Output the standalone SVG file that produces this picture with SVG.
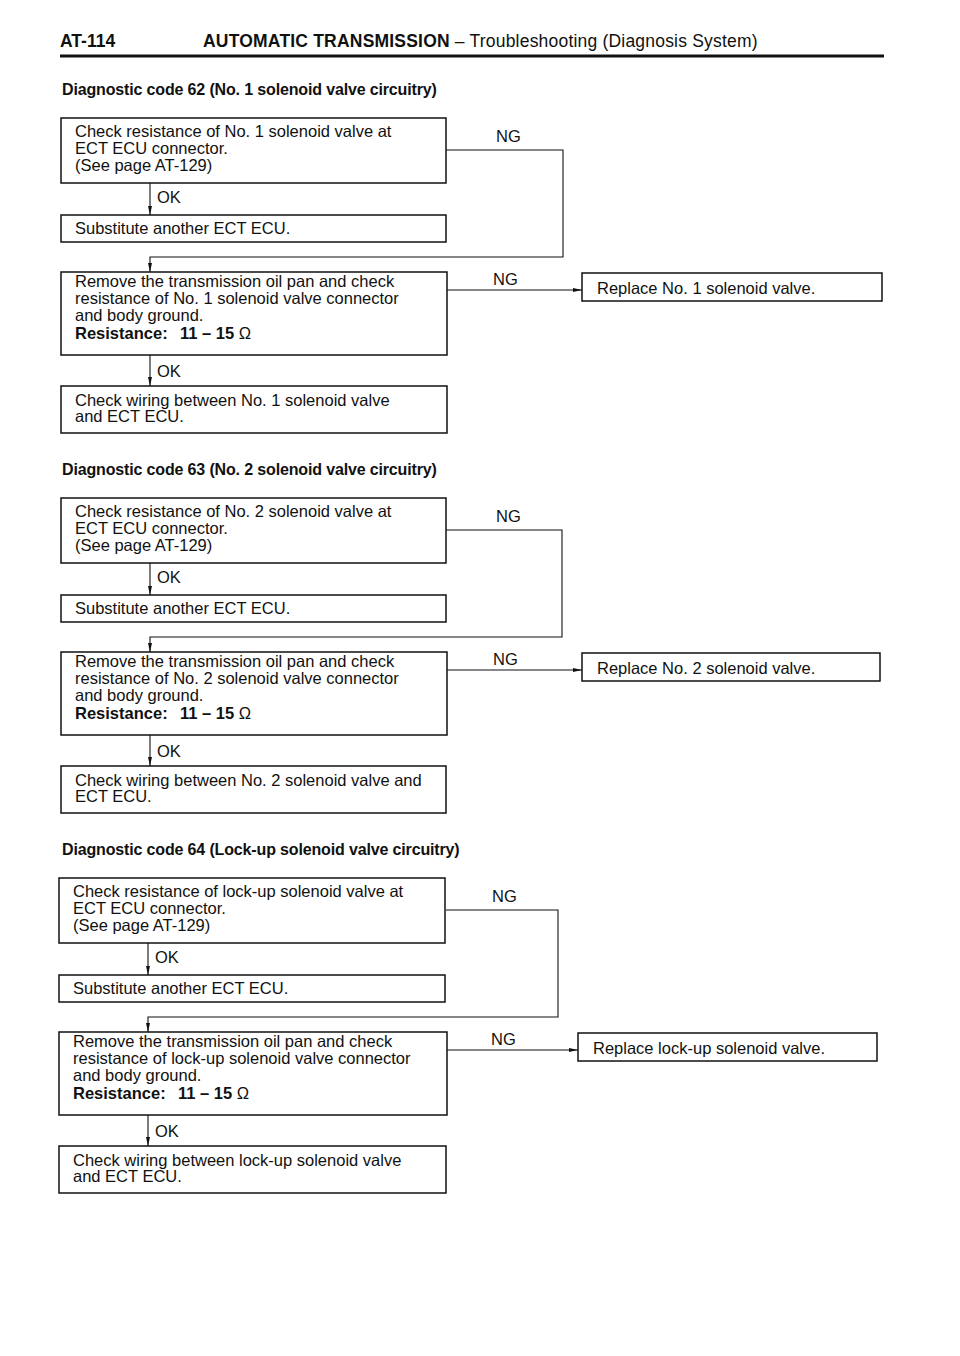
<svg xmlns="http://www.w3.org/2000/svg" width="960" height="1356" viewBox="0 0 960 1356">
<defs>
<marker id="ah" viewBox="0 0 10 10" refX="10" refY="5" markerWidth="9" markerHeight="9" orient="auto" markerUnits="userSpaceOnUse"><path d="M0,2.8 L10,5 L0,7.2 z" fill="#111"/></marker>
</defs>
<style>
text{font-family:"Liberation Sans",Arial,Helvetica,sans-serif;fill:#111}
.t{font-size:16.5px}
.b{font-weight:bold}
.h{font-size:17.5px;letter-spacing:0.2px}
.ttl{font-size:16px;font-weight:bold;letter-spacing:-0.15px}
.box{fill:#fff;stroke:#111;stroke-width:1.5}
.ln{fill:none;stroke:#111;stroke-width:1.1}
.arr{fill:none;stroke:#111;stroke-width:1.1;marker-end:url(#ah)}
</style>
<rect width="960" height="1356" fill="#fff"/>
<g id="header">
<text class="h b" x="60" y="47" style="letter-spacing:0">AT-114</text>
<text class="h" x="203" y="47"><tspan class="b">AUTOMATIC TRANSMISSION</tspan> – Troubleshooting (Diagnosis System)</text>
<line x1="60" y1="56" x2="884" y2="56" stroke="#111" stroke-width="3"/>
</g>

<!-- Section 62 -->
<g id="sec62">
<text class="ttl" x="62" y="95">Diagnostic code 62 (No. 1 solenoid valve circuitry)</text>
<g id="connectors62">
<line class="arr" x1="150" y1="183" x2="150" y2="215"/>
<text class="t" x="157" y="203">OK</text>
<polyline class="arr" points="446,150 563,150 563,257 150,257 150,272"/>
<text class="t" x="496" y="142">NG</text>
<line class="arr" x1="447" y1="290" x2="582" y2="290"/>
<text class="t" x="493" y="285">NG</text>
<line class="arr" x1="150" y1="355" x2="150" y2="386"/>
<text class="t" x="157" y="377">OK</text>
</g>
<g id="n62a"><rect class="box" x="61" y="118" width="385" height="65"/>
<text class="t" x="75" y="137">Check resistance of No. 1 solenoid valve at</text>
<text class="t" x="75" y="154">ECT ECU connector.</text>
<text class="t" x="75" y="171">(See page AT-129)</text></g>
<g id="n62b"><rect class="box" x="61" y="215" width="385" height="27"/>
<text class="t" x="75" y="234">Substitute another ECT ECU.</text></g>
<g id="n62c"><rect class="box" x="61" y="272" width="386" height="83"/>
<text class="t" x="75" y="287">Remove the transmission oil pan and check</text>
<text class="t" x="75" y="304">resistance of No. 1 solenoid valve connector</text>
<text class="t" x="75" y="321">and body ground.</text>
<text class="t" x="75" y="339"><tspan class="b">Resistance:</tspan><tspan class="b" x="180">11 – 15</tspan> Ω</text></g>
<g id="n62d"><rect class="box" x="61" y="386" width="386" height="47"/>
<text class="t" x="75" y="406">Check wiring between No. 1 solenoid valve</text>
<text class="t" x="75" y="422">and ECT ECU.</text></g>
<g id="n62e"><rect class="box" x="582" y="273" width="300" height="28"/>
<text class="t" x="597" y="294">Replace No. 1 solenoid valve.</text></g>
</g>

<!-- Section 63 -->
<g id="sec63" transform="translate(0,380)">
<text class="ttl" x="62" y="95">Diagnostic code 63 (No. 2 solenoid valve circuitry)</text>
<g id="connectors63">
<line class="arr" x1="150" y1="183" x2="150" y2="215"/>
<text class="t" x="157" y="203">OK</text>
<polyline class="arr" points="446,150 562,150 562,257 150,257 150,272"/>
<text class="t" x="496" y="142">NG</text>
<line class="arr" x1="447" y1="290" x2="582" y2="290"/>
<text class="t" x="493" y="285">NG</text>
<line class="arr" x1="150" y1="355" x2="150" y2="386"/>
<text class="t" x="157" y="377">OK</text>
</g>
<g id="n63a"><rect class="box" x="61" y="118" width="385" height="65"/>
<text class="t" x="75" y="137">Check resistance of No. 2 solenoid valve at</text>
<text class="t" x="75" y="154">ECT ECU connector.</text>
<text class="t" x="75" y="171">(See page AT-129)</text></g>
<g id="n63b"><rect class="box" x="61" y="215" width="385" height="27"/>
<text class="t" x="75" y="234">Substitute another ECT ECU.</text></g>
<g id="n63c"><rect class="box" x="61" y="272" width="386" height="83"/>
<text class="t" x="75" y="287">Remove the transmission oil pan and check</text>
<text class="t" x="75" y="304">resistance of No. 2 solenoid valve connector</text>
<text class="t" x="75" y="321">and body ground.</text>
<text class="t" x="75" y="339"><tspan class="b">Resistance:</tspan><tspan class="b" x="180">11 – 15</tspan> Ω</text></g>
<g id="n63d"><rect class="box" x="61" y="386" width="385" height="47"/>
<text class="t" x="75" y="406">Check wiring between No. 2 solenoid valve and</text>
<text class="t" x="75" y="422">ECT ECU.</text></g>
<g id="n63e"><rect class="box" x="582" y="273" width="298" height="28"/>
<text class="t" x="597" y="294">Replace No. 2 solenoid valve.</text></g>
</g>

<!-- Section 64 -->
<g id="sec64" transform="translate(0,760)">
<text class="ttl" x="62" y="95">Diagnostic code 64 (Lock-up solenoid valve circuitry)</text>
<g id="connectors64">
<line class="arr" x1="148" y1="183" x2="148" y2="215"/>
<text class="t" x="155" y="203">OK</text>
<polyline class="arr" points="446,150 558,150 558,257 148,257 148,272"/>
<text class="t" x="492" y="142">NG</text>
<line class="arr" x1="447" y1="290" x2="578" y2="290"/>
<text class="t" x="491" y="285">NG</text>
<line class="arr" x1="148" y1="355" x2="148" y2="386"/>
<text class="t" x="155" y="377">OK</text>
</g>
<g id="n64a"><rect class="box" x="59" y="118" width="386" height="65"/>
<text class="t" x="73" y="137">Check resistance of lock-up solenoid valve at</text>
<text class="t" x="73" y="154">ECT ECU connector.</text>
<text class="t" x="73" y="171">(See page AT-129)</text></g>
<g id="n64b"><rect class="box" x="59" y="215" width="386" height="27"/>
<text class="t" x="73" y="234">Substitute another ECT ECU.</text></g>
<g id="n64c"><rect class="box" x="59" y="272" width="388" height="83"/>
<text class="t" x="73" y="287">Remove the transmission oil pan and check</text>
<text class="t" x="73" y="304">resistance of lock-up solenoid valve connector</text>
<text class="t" x="73" y="321">and body ground.</text>
<text class="t" x="73" y="339"><tspan class="b">Resistance:</tspan><tspan class="b" x="178">11 – 15</tspan> Ω</text></g>
<g id="n64d"><rect class="box" x="59" y="386" width="387" height="47"/>
<text class="t" x="73" y="406">Check wiring between lock-up solenoid valve</text>
<text class="t" x="73" y="422">and ECT ECU.</text></g>
<g id="n64e"><rect class="box" x="578" y="273" width="299" height="28"/>
<text class="t" x="593" y="294">Replace lock-up solenoid valve.</text></g>
</g>
</svg>
